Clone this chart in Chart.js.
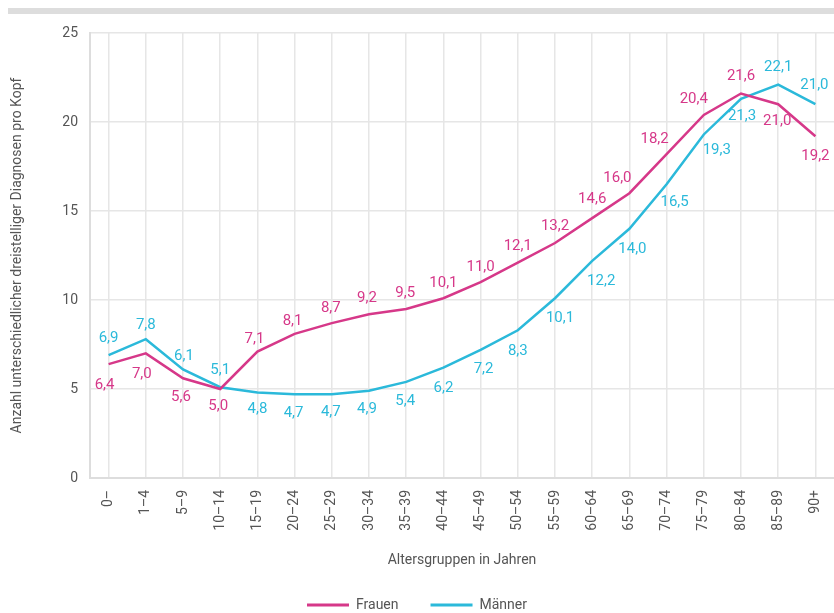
<!DOCTYPE html>
<html>
<head>
<meta charset="utf-8">
<script src="https://cdn.jsdelivr.net/npm/chart.js@4/dist/chart.umd.min.js"></script>
<style>
	html, body { margin: 0; padding: 0; background: #fff; }
	#wrap { width: 834px; height: 613px; }
</style>
</head>
<body>
<div id="wrap"><canvas id="myChart" width="834" height="613"></canvas></div>
<script>
const altersgruppen = ['0–', '1–4', '5–9', '10–14', '15–19', '20–24', '25–29', '30–34', '35–39', '40–44',
	'45–49', '50–54', '55–59', '60–64', '65–69', '70–74', '75–79', '80–84', '85–89', '90+']
const frauen = [6.4, 7.0, 5.6, 5.0, 7.1, 8.1, 8.7, 9.2, 9.5, 10.1, 11.0, 12.1, 13.2, 14.6, 16.0, 18.2, 20.4, 21.6, 21.0, 19.2]
const maenner = [6.9, 7.8, 6.1, 5.1, 4.8, 4.7, 4.7, 4.9, 5.4, 6.2, 7.2, 8.3, 10.1, 12.2, 14.0, 16.5, 19.3, 21.3, 22.1, 21.0]
const yTicks = [0, 5, 10, 15, 20, 25]

// label offsets from each point (px)
const frauenLabelDx = [-4, -4, -2, -2, -3, -2, -1, -2, -1, 0, 0, 0, 0, 0, -12, -12, -10, 0, -1, 0]
const frauenLabelDy = [21, 21, 19, 17, -12, -13, -15, -16, -16, -15, -15, -16, -17, -19, -15, -15, -16, -17, 17, 20]
const maennerLabelDx = [0, 0, 1, 0, 0, -1, -1, -2, -1, 0, 3, 0, 5, 9, 3, 8, 13, 1, 0, -1]
const maennerLabelDy = [-17, -14, -13, -17, 17, 19, 18, 18, 19, 21, 19, 21, 20, 20, 20, 18, 16, 17, -17, -19]

const PINK = '#d63889'
const CYAN = '#2bb9da'
const GREY_TEXT = '#555555'
const FONT = 'Roboto, sans-serif'

// grey strip on top
const topBar = {
	id: 'topBar',
	beforeDraw(chart) {
		const c = chart.ctx
		c.save()
		c.fillStyle = '#dddddd'
		c.fillRect(8, 8, 826, 6)
		c.restore()
	},
}

// legend a bit lower, closer to the bottom edge
const legendShift = {
	id: 'legendShift',
	beforeInit(chart) {
		const fit = chart.legend.fit
		chart.legend.fit = function () {
			fit.bind(chart.legend)()
			this.height -= 9
		}
	},
}

// value labels with comma decimals
const valueLabels = {
	id: 'valueLabels',
	afterDatasetsDraw(chart) {
		const c = chart.ctx
		c.save()
		c.font = '15px ' + FONT
		c.textAlign = 'center'
		c.textBaseline = 'middle'
		chart.data.datasets.forEach(function (ds, i) {
			const meta = chart.getDatasetMeta(i)
			meta.data.forEach(function (pt, j) {
				c.fillStyle = ds.borderColor
				c.fillText(ds.data[j].toFixed(1).replace('.', ','), pt.x + ds.labelDx[j], pt.y + ds.labelDy[j])
			})
		})
		c.restore()
	},
}

const ctx = document.getElementById('myChart')

new Chart(ctx, {
	type: 'line',
	data: {
		labels: altersgruppen,
		datasets: [
			{
				label: 'Frauen',
				data: frauen,
				labelDx: frauenLabelDx,
				labelDy: frauenLabelDy,
				borderColor: PINK,
				backgroundColor: PINK,
				borderWidth: 2.5,
				pointRadius: 0,
				tension: 0,
			},
			{
				label: 'Männer',
				data: maenner,
				labelDx: maennerLabelDx,
				labelDy: maennerLabelDy,
				borderColor: CYAN,
				backgroundColor: CYAN,
				borderWidth: 2.5,
				pointRadius: 0,
				tension: 0,
			},
		],
	},
	options: {
		responsive: false,
		animation: false,
		layout: {
			padding: { top: 33, right: 0, bottom: 0, left: 0 },
		},
		scales: {
			x: {
				offset: true,
				afterFit(scale) {
					scale.height = 88
					scale.paddingLeft = 0
					scale.paddingRight = 0
				},
				grid: { color: '#e6e6e6', lineWidth: 1.5, drawTicks: false, offset: false },
				border: { color: '#dddddd', width: 2 },
				ticks: {
					color: GREY_TEXT,
					font: { family: FONT, size: 14 },
					maxRotation: 90,
					minRotation: 90,
					padding: 12,
					autoSkip: false,
				},
				title: {
					display: true,
					text: 'Altersgruppen in Jahren',
					color: GREY_TEXT,
					font: { family: FONT, size: 14 },
					padding: { top: 0, bottom: -3 },
				},
			},
			y: {
				min: 0,
				max: 25,
				afterBuildTicks(scale) {
					scale.ticks = yTicks.map(function (v) { return { value: v } })
				},
				afterFit(scale) {
					scale.width = 90
				},
				grid: { color: '#e6e6e6', lineWidth: 1.5, drawTicks: false },
				border: { color: '#dddddd', width: 2 },
				ticks: {
					color: GREY_TEXT,
					font: { family: FONT, size: 14 },
					padding: 12,
				},
				title: {
					display: true,
					text: 'Anzahl unterschiedlicher dreistelliger Diagnosen pro Kopf',
					color: GREY_TEXT,
					font: { family: FONT, size: 14 },
					padding: { top: 9, bottom: 0 },
				},
			},
		},
		plugins: {
			legend: {
				position: 'bottom',
				labels: {
					color: GREY_TEXT,
					font: { family: FONT, size: 14 },
					boxWidth: 42,
					boxHeight: 3,
					padding: 32,
					generateLabels(chart) {
						return chart.data.datasets.map(function (ds, i) {
							return {
								text: ds.label,
								fillStyle: ds.borderColor,
								strokeStyle: ds.borderColor,
								lineWidth: 0,
								fontColor: GREY_TEXT,
								datasetIndex: i,
							}
						})
					},
				},
			},
			tooltip: { enabled: false },
		},
	},
	plugins: [topBar, legendShift, valueLabels],
})
</script>
</body>
</html>
